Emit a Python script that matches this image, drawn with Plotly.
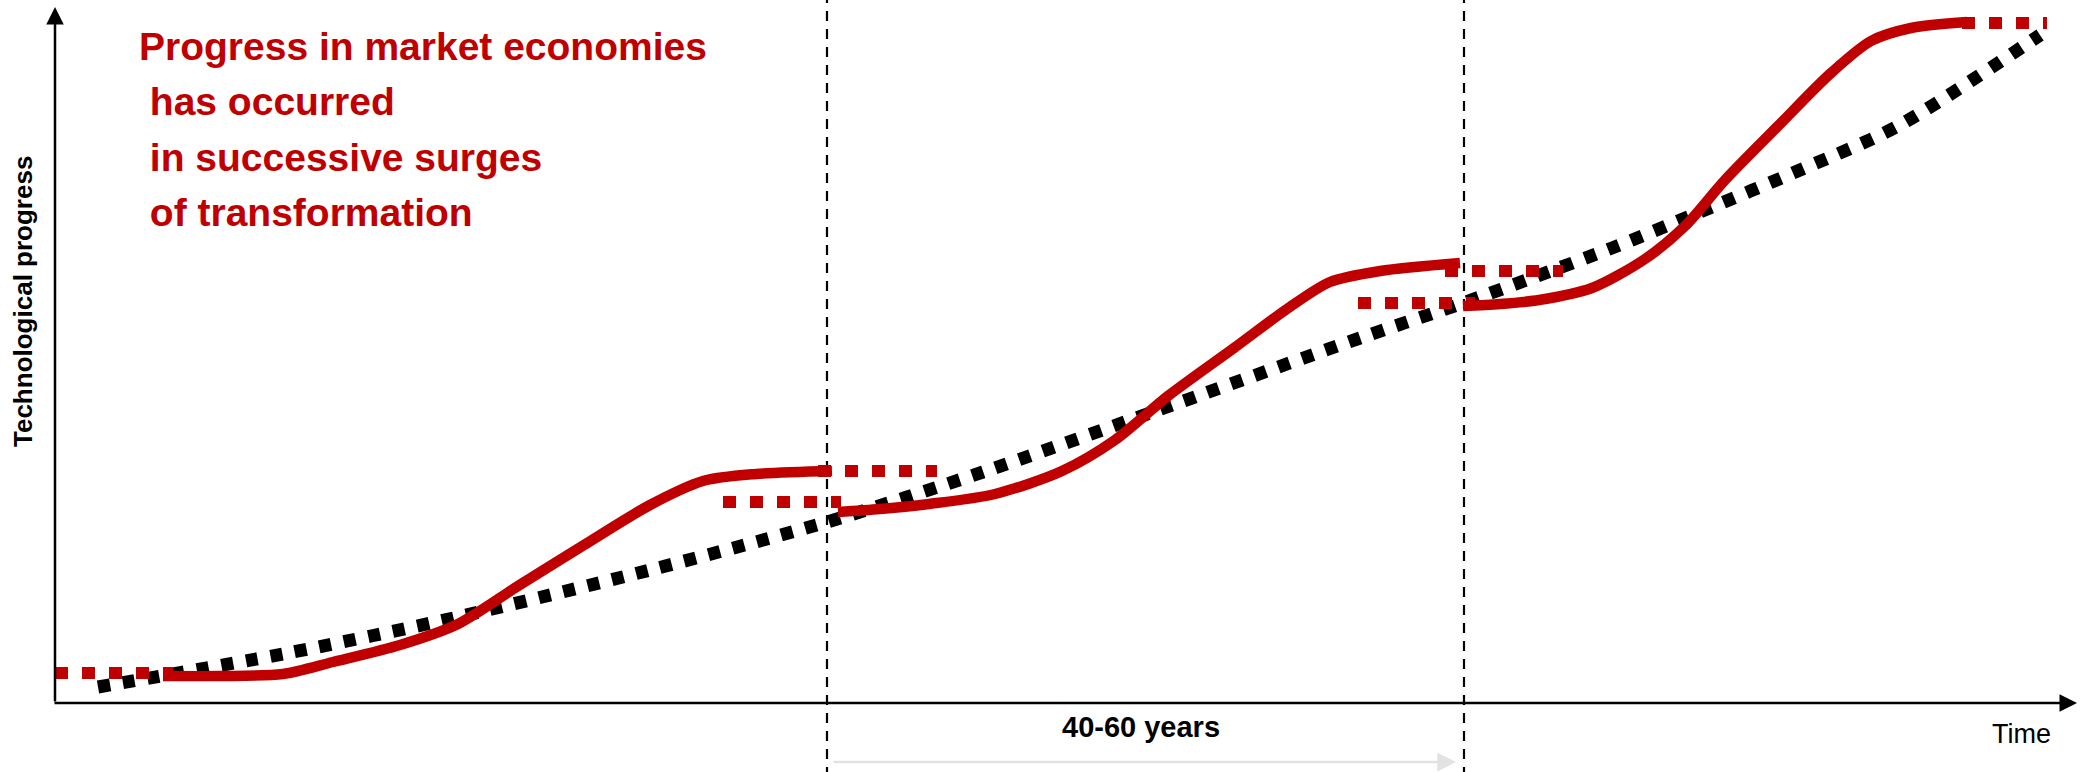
import plotly.graph_objects as go

# ---- data (time units on x, progress units on y) ----
trend_time = [98, 288, 458, 650, 827, 983, 1150, 1360, 1463, 1612, 1700, 1800, 1898, 2040]
trend_progress = [85, 119, 155, 202, 250, 300, 359, 434, 469, 524, 560, 602, 646, 737]

surge1_time = [163, 220, 283, 333, 400, 458, 518, 584, 650, 703, 756, 832]
surge1_progress = [96, 96, 98, 110, 127, 148, 186, 227, 267, 291, 298, 301]

surge2_time = [838, 880, 929, 995, 1062, 1115, 1168, 1234, 1287, 1330, 1380, 1460]
surge2_progress = [260, 263, 268, 278, 301, 332, 376, 424, 463, 490, 501, 509]

surge3_time = [1463, 1500, 1539, 1592, 1645, 1685, 1725, 1778, 1831, 1871, 1911, 1967]
surge3_progress = [466, 468, 472, 484, 513, 546, 592, 646, 699, 731, 744, 750]

# dotted red plateaus / lead-ins: (start time, end time, level)
plateau_start = [55, 723, 818, 1358, 1445, 1962]
plateau_end = [173, 841, 937, 1475, 1563, 2047]
plateau_level = [99, 270, 301, 469, 501, 749]

boundary_times = [827, 1464]

title_lines = ["Progress in market economies", " has occurred", " in successive surges", " of transformation"]

RED = "#C00000"
fig = go.Figure()

# vertical dashed boundaries
for bt in boundary_times:
    fig.add_trace(go.Scatter(x=[bt, bt], y=[-5, 780], mode="lines",
                             line=dict(color="black", width=2.2, dash="10px,8px"),
                             hoverinfo="skip", showlegend=False))

# trend
fig.add_trace(go.Scatter(x=trend_time, y=trend_progress, mode="lines",
                         line=dict(color="black", width=13, dash="12px,13px", shape="spline", smoothing=0.8),
                         showlegend=False))

# plateaus
for s, e, lv in zip(plateau_start, plateau_end, plateau_level):
    fig.add_trace(go.Scatter(x=[s, e], y=[lv, lv], mode="lines",
                             line=dict(color=RED, width=12, dash="13px,14px"),
                             showlegend=False))

# surges
for t, p in [(surge1_time, surge1_progress), (surge2_time, surge2_progress), (surge3_time, surge3_progress)]:
    fig.add_trace(go.Scatter(x=t, y=p, mode="lines",
                             line=dict(color=RED, width=10.5, shape="spline", smoothing=0.8),
                             showlegend=False))

anns = []
# axes arrows
anns.append(dict(x=55, y=765, ax=55, ay=69, xref="x", yref="y", axref="x", ayref="y",
                 showarrow=True, arrowhead=2, arrowsize=1.4, arrowwidth=2.5, arrowcolor="black", text="", standoff=0))
anns.append(dict(x=2077, y=69, ax=53, ay=69, xref="x", yref="y", axref="x", ayref="y",
                 showarrow=True, arrowhead=2, arrowsize=1.4, arrowwidth=2.5, arrowcolor="black", text="", standoff=0))
# gray duration arrow
anns.append(dict(x=1456, y=10, ax=832, ay=10, xref="x", yref="y", axref="x", ayref="y",
                 showarrow=True, arrowhead=2, arrowsize=1.5, arrowwidth=2.5, arrowcolor="#e2e2e2", text="", standoff=0))

# title text
title_x = [137, 137, 137, 137]
title_y = [726, 671, 615, 560]
for txt, tx, ty in zip(title_lines, title_x, title_y):
    anns.append(dict(x=tx, y=ty, xref="x", yref="y", text="<b>" + txt + "</b>", showarrow=False,
                     xanchor="left", yanchor="middle",
                     font=dict(family="Liberation Sans Narrow, Arial Narrow, Liberation Sans, Arial", size=39, color=RED)))

anns.append(dict(x=1141, y=45, xref="x", yref="y", text="<b>40-60 years</b>", showarrow=False,
                 xanchor="center", yanchor="middle",
                 font=dict(family="Liberation Sans, Arial", size=29, color="black")))
anns.append(dict(x=2021, y=38, xref="x", yref="y", text="Time", showarrow=False,
                 xanchor="center", yanchor="middle",
                 font=dict(family="Liberation Sans Narrow, Arial Narrow, Liberation Sans, Arial", size=27, color="black")))
anns.append(dict(x=23, y=470, xref="x", yref="y", text="<b>Technological progress</b>", showarrow=False,
                 textangle=-90, xanchor="center", yanchor="middle",
                 font=dict(family="Liberation Sans, Arial", size=26, color="black")))

fig.update_layout(
    width=2081, height=772,
    margin=dict(l=0, r=0, t=0, b=0),
    paper_bgcolor="white", plot_bgcolor="white",
    xaxis=dict(range=[0, 2081], visible=False, fixedrange=True),
    yaxis=dict(range=[0, 772], visible=False, fixedrange=True),
    annotations=anns,
    showlegend=False,
)

fig.write_html("out.html")
